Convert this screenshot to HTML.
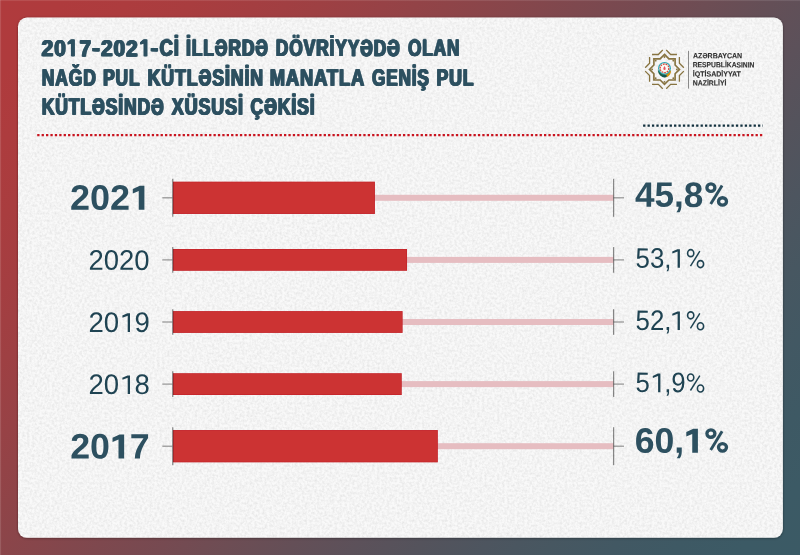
<!DOCTYPE html>
<html><head><meta charset="utf-8"><title>Chart</title>
<style>
html,body{margin:0;padding:0;}
body{width:800px;height:555px;overflow:hidden;background:linear-gradient(131.5deg,rgb(176,59,61) 0%,rgb(175,59,61) 5%,rgb(173,60,62) 10%,rgb(169,61,63) 15%,rgb(164,62,65) 20%,rgb(158,64,67) 25%,rgb(151,66,70) 30%,rgb(143,68,72) 35%,rgb(135,70,75) 40%,rgb(126,72,78) 45%,rgb(118,74,81) 50%,rgb(109,77,84) 55%,rgb(100,79,87) 60%,rgb(92,81,90) 65%,rgb(84,83,92) 70%,rgb(77,85,95) 75%,rgb(71,87,97) 80%,rgb(66,88,99) 85%,rgb(62,89,100) 90%,rgb(60,90,101) 95%,rgb(59,90,101) 100%);font-family:"Liberation Sans",sans-serif;}
svg{display:block;position:absolute;left:0;top:0;}
text{font-family:"Liberation Sans",sans-serif;text-rendering:geometricPrecision;}
.ttl{font-weight:700;fill:#2d5060;stroke:#2d5060;stroke-linejoin:round;}
.bl{font-weight:700;fill:#2d5060;}
.rl{font-weight:400;fill:#1f4352;}
.sk{stroke:currentColor;stroke-linejoin:round;}
.bl{color:#2d5060}.rl{color:#1f4352}
.lg{font-weight:700;fill:#333;stroke:#333;stroke-width:0.12;}
</style></head><body>
<svg width="800" height="555" viewBox="0 0 800 555" style="will-change:transform">
<defs>
<g id="tl0"><text class="ttl" transform="translate(41.674,56.1) rotate(0.1) scale(0.916,1)" font-size="22.718" stroke-width="0.55" letter-spacing="1.15">20<tspan visibility="hidden">1</tspan>7</text><path d="M74.35 56.37L74.35 39.53L71.05 39.53L67.95 42.2L67.95 44.4L71.45 43.3L71.45 56.37Z" fill="#2d5060"/><text class="ttl" transform="translate(92.092,55.75) rotate(0.1) scale(1.001,1)" font-size="23.3" stroke-width="0.55" letter-spacing="1.15">-</text><text class="ttl" transform="translate(101.078,56.1) rotate(0.1) scale(0.908,1)" font-size="22.718" stroke-width="0.55" letter-spacing="1.15">202<tspan visibility="hidden">1</tspan></text><path d="M146.95 56.37L146.95 39.53L143.65 39.53L140.55 42.2L140.55 44.4L144.05 43.3L144.05 56.37Z" fill="#2d5060"/><text class="ttl" transform="translate(150.492,55.75) rotate(0.1) scale(1.001,1)" font-size="23.3" stroke-width="0.55" letter-spacing="1.15">-</text><text class="ttl" transform="translate(159.634,55.75) rotate(0.1) scale(0.785,1)" font-size="23.3" stroke-width="0.55" letter-spacing="1.15">Cİ</text><text class="ttl" transform="translate(186.02,55.75) rotate(0.1) scale(0.75,1)" font-size="23.3" stroke-width="0.55" letter-spacing="1.15">İLLƏRDƏ</text><text class="ttl" transform="translate(275.824,55.75) rotate(0.1) scale(0.747,1)" font-size="23.3" stroke-width="0.55" letter-spacing="1.15">DÖVRİYYƏDƏ</text><text class="ttl" transform="translate(408.064,55.75) rotate(0.1) scale(0.739,1)" font-size="23.3" stroke-width="0.55" letter-spacing="1.15">OLAN</text></g>
<clipPath id="cb0"><rect x="0" y="38.9" width="800" height="30"/></clipPath><clipPath id="cm0"><rect x="0" y="26.9" width="800" height="12"/></clipPath>
<g id="tl1"><text class="ttl" transform="translate(41.718,85.4) rotate(0.1) scale(0.752,1)" font-size="23.3" stroke-width="0.55" letter-spacing="1.15">NAĞD</text><text class="ttl" transform="translate(103.126,85.4) rotate(0.1) scale(0.745,1)" font-size="23.3" stroke-width="0.55" letter-spacing="1.15">PUL</text><text class="ttl" transform="translate(147.606,85.4) rotate(0.1) scale(0.762,1)" font-size="23.3" stroke-width="0.55" letter-spacing="1.15">KÜTLƏSİNİN</text><text class="ttl" transform="translate(269.676,85.4) rotate(0.1) scale(0.786,1)" font-size="23.3" stroke-width="0.55" letter-spacing="1.15">MANATLA</text><text class="ttl" transform="translate(371.965,85.4) rotate(0.1) scale(0.738,1)" font-size="23.3" stroke-width="0.55" letter-spacing="1.15">GENİŞ</text><text class="ttl" transform="translate(436.512,85.4) rotate(0.1) scale(0.757,1)" font-size="23.3" stroke-width="0.55" letter-spacing="1.15">PUL</text></g>
<clipPath id="cb1"><rect x="0" y="68.55" width="800" height="30"/></clipPath><clipPath id="cm1"><rect x="0" y="56.55" width="800" height="12"/></clipPath>
<g id="tl2"><text class="ttl" transform="translate(41.716,114.45) rotate(0.1) scale(0.754,1)" font-size="23.3" stroke-width="0.55" letter-spacing="1.15">KÜTLƏSİNDƏ</text><text class="ttl" transform="translate(171.782,114.45) rotate(0.1) scale(0.769,1)" font-size="23.3" stroke-width="0.55" letter-spacing="1.15">XÜSUSİ</text><text class="ttl" transform="translate(250.554,114.45) rotate(0.1) scale(0.756,1)" font-size="23.3" stroke-width="0.55" letter-spacing="1.15">ÇƏKİSİ</text></g>
<clipPath id="cb2"><rect x="0" y="97.6" width="800" height="30"/></clipPath><clipPath id="cm2"><rect x="0" y="85.6" width="800" height="12"/></clipPath>
<filter id="sh" x="-5%" y="-5%" width="110%" height="110%"><feDropShadow dx="0" dy="0.5" stdDeviation="1.2" flood-color="#000" flood-opacity="0.45"/></filter>
<filter id="noise" x="0" y="0" width="100%" height="100%"><feTurbulence type="fractalNoise" baseFrequency="0.4" numOctaves="3" seed="3" result="n"/><feColorMatrix in="n" type="matrix" values="0 0 0 0 0  0 0 0 0 0  0 0 0 0 0  0.13 0 0 0 -0.043"/><feComposite in2="SourceGraphic" operator="in"/></filter>
</defs>
<rect x="0" y="0" width="1.1" height="555" fill="rgba(255,255,255,0.13)"/><rect x="0" y="0" width="800" height="1.1" fill="rgba(255,255,255,0.1)"/>
<rect x="18" y="17.5" width="764.9" height="520.3" rx="9" ry="9" fill="#f9f9f9" filter="url(#sh)"/>
<rect x="18" y="17.5" width="764.9" height="520.3" rx="9" ry="9" fill="#000" filter="url(#noise)"/>
<g clip-path="url(#cb0)"><use href="#tl0" x="-0.55"/><use href="#tl0"/><use href="#tl0" x="0.55"/></g>
<g transform="translate(0,-0.65)" clip-path="url(#cm0)"><use href="#tl0" x="-0.55"/><use href="#tl0"/><use href="#tl0" x="0.55"/></g>
<g clip-path="url(#cb1)"><use href="#tl1" x="-0.55"/><use href="#tl1"/><use href="#tl1" x="0.55"/></g>
<g transform="translate(0,-0.65)" clip-path="url(#cm1)"><use href="#tl1" x="-0.55"/><use href="#tl1"/><use href="#tl1" x="0.55"/></g>
<g clip-path="url(#cb2)"><use href="#tl2" x="-0.55"/><use href="#tl2"/><use href="#tl2" x="0.55"/></g>
<g transform="translate(0,-0.65)" clip-path="url(#cm2)"><use href="#tl2" x="-0.55"/><use href="#tl2"/><use href="#tl2" x="0.55"/></g>
<line x1="37.2" y1="135.05" x2="763" y2="135.05" stroke="#c9141f" stroke-width="2.3" stroke-dasharray="2.3 2.107"/>
<line x1="643.1" y1="125.65" x2="762.9" y2="125.65" stroke="#12303e" stroke-width="2.3" stroke-dasharray="2.3 2.12"/>
<text class="lg" transform="translate(693.024,58.2) rotate(0.1) scale(0.941,1)" font-size="7.5">AZƏRBAYCAN</text>
<text class="lg" transform="translate(692.763,67.3) rotate(0.1) scale(0.897,1)" font-size="7.5">RESPUBLİKASININ</text>
<text class="lg" transform="translate(692.742,76.4) rotate(0.1) scale(0.939,1)" font-size="7.5">İQTİSADİYYAT</text>
<text class="lg" transform="translate(692.752,85.5) rotate(0.1) scale(0.92,1)" font-size="7.5">NAZİRLİYİ</text>
<line x1="688.5" y1="50.8" x2="688.5" y2="88.6" stroke="#8a8a8a" stroke-width="1"/>
<g transform="translate(664.5,69.4)"><path d="M1.73 -19.34L6.17 -14.9L12.46 -14.9M14.9 -12.46L14.9 -6.17L19.34 -1.73M19.34 1.73L14.9 6.17L14.9 12.46M12.46 14.9L6.17 14.9L1.73 19.34M-1.73 19.34L-6.17 14.9L-12.46 14.9M-14.9 12.46L-14.9 6.17L-19.34 1.73M-19.34 -1.73L-14.9 -6.17L-14.9 -12.46M-12.46 -14.9L-6.17 -14.9L-1.73 -19.34" fill="none" stroke="#877340" stroke-width="1.3" stroke-linecap="butt" stroke-linejoin="miter"/>
<path d="M0 -14.99L4.39 -10.6L10.6 -10.6L10.6 -4.39L14.99 0L10.6 4.39L10.6 10.6L4.39 10.6L0 14.99L-4.39 10.6L-10.6 10.6L-10.6 4.39L-14.99 0L-10.6 -4.39L-10.6 -10.6L-4.39 -10.6Z" fill="none" stroke="#877340" stroke-width="1.65" stroke-linejoin="miter"/>
<circle cx="0" cy="-12.39" r="0.9" fill="#877340"/>
<circle cx="8.76" cy="-8.76" r="0.9" fill="#877340"/>
<circle cx="12.39" cy="0" r="0.9" fill="#877340"/>
<circle cx="8.76" cy="8.76" r="0.9" fill="#877340"/>
<circle cx="0" cy="12.39" r="0.9" fill="#877340"/>
<circle cx="-8.76" cy="8.76" r="0.9" fill="#877340"/>
<circle cx="-12.39" cy="0" r="0.9" fill="#877340"/>
<circle cx="-8.76" cy="-8.76" r="0.9" fill="#877340"/>
<path d="M-6.6 1.1 A7.2 7.2 0 0 0 0.8 8.1 L0.8 3.9 A4 4 0 0 1 -4 0.9 Z" fill="#1a5f45"/>
<path d="M6.6 1.1 A7.2 7.2 0 0 1 0.8 8.1 L0.8 3.9 A4 4 0 0 0 4 0.9 Z" fill="#cf920f"/>
<ellipse cx="0.2" cy="6.6" rx="2.2" ry="1.3" fill="#0f5458"/>
<circle cx="0" cy="-1.1" r="6.4" fill="#2aa6b3"/>
<circle cx="0" cy="-1.1" r="5.2" fill="#f4f1ea"/>
<circle cx="0" cy="-1.1" r="4.3" fill="none" stroke="#d3483d" stroke-width="1.3" stroke-dasharray="1.7 0.9"/>
<circle cx="0" cy="-1.1" r="3.4" fill="#fbf8f2"/>
<path d="M0 -3.3 C1.6 -1.5 1.5 0.7 0 0.7 C-1.5 0.7 -1.6 -1.5 0 -3.3 Z" fill="#e8525e"/></g>
<rect x="172.9" y="194.8" width="440.5" height="6" fill="#e6bdc1"/>
<rect x="172.9" y="181.65" width="202.02" height="32.3" fill="#c3232a"/>
<rect x="173.6" y="182.35" width="200.62" height="30.9" fill="#cc3333"/>
<line x1="162.3" y1="197.8" x2="172.4" y2="197.8" stroke="#929292" stroke-width="1.2"/>
<line x1="172.75" y1="178.8" x2="172.75" y2="216.8" stroke="rgba(35,35,35,0.52)" stroke-width="1.25"/>
<line x1="613.6" y1="197.8" x2="624" y2="197.8" stroke="#929292" stroke-width="1.2"/>
<line x1="613.6" y1="178.8" x2="613.6" y2="216.8" stroke="rgba(35,35,35,0.52)" stroke-width="1.25"/>
<text class="bl" transform="translate(70.042,209.8) rotate(0.1) scale(1.016,1)" font-size="35.4">202<tspan visibility="hidden">1</tspan></text>
<text class="bl" transform="translate(634.973,206.8) rotate(0.1) scale(0.992,1)" font-size="35.4">45,8</text>
<path d="M144.4 209.8L144.4 185.8L139.8 185.8L132.8 189.1L132.8 193.4L138.75 190.9L138.75 209.8Z" fill="#2d5060"/>
<g transform="translate(705.2,206.8)" fill="none" stroke="#2d5060"><ellipse cx="5.7" cy="-19.15" rx="4" ry="3.72" stroke-width="3.3"/><ellipse cx="17.3" cy="-5.35" rx="4" ry="3.72" stroke-width="3.3"/><line x1="16.9" y1="-21.4" x2="5.5" y2="-2.7" stroke-width="2.9"/></g>
<rect x="172.9" y="256.9" width="440.5" height="6" fill="#e6bdc1"/>
<rect x="172.9" y="249" width="234.14" height="21.8" fill="#c3232a"/>
<rect x="173.6" y="249.7" width="232.74" height="20.4" fill="#cc3333"/>
<line x1="162.3" y1="259.9" x2="172.4" y2="259.9" stroke="#929292" stroke-width="1.2"/>
<line x1="172.75" y1="247.1" x2="172.75" y2="272.7" stroke="rgba(35,35,35,0.52)" stroke-width="1.25"/>
<line x1="613.6" y1="259.9" x2="624" y2="259.9" stroke="#929292" stroke-width="1.2"/>
<line x1="613.6" y1="247.1" x2="613.6" y2="272.7" stroke="rgba(35,35,35,0.52)" stroke-width="1.25"/>
<text class="rl" transform="translate(88.528,269.8) rotate(0.1) scale(0.973,1)" font-size="28.2">2020</text>
<text class="rl" transform="translate(635.568,267.7) rotate(0.1) scale(0.915,1)" font-size="28.2">53,<tspan visibility="hidden">1</tspan></text>
<path d="M679.9 267.8L679.9 249.2L677.4 249.2L672.2 251.5L672.4 253.6L677.6 251.6L677.6 267.8Z" fill="#1f4352"/>
<g transform="translate(686.8,267.7)" fill="none" stroke="#1f4352"><ellipse cx="3.9" cy="-14.55" rx="3.1" ry="3.5" stroke-width="1.6"/><ellipse cx="13.7" cy="-3.6" rx="3.1" ry="3.5" stroke-width="1.6"/><line x1="13.05" y1="-16.5" x2="3.65" y2="-1.6" stroke-width="1.45"/></g>
<rect x="172.9" y="319" width="440.5" height="6" fill="#e6bdc1"/>
<rect x="172.9" y="311.1" width="229.74" height="21.8" fill="#c3232a"/>
<rect x="173.6" y="311.8" width="228.34" height="20.4" fill="#cc3333"/>
<line x1="162.3" y1="322" x2="172.4" y2="322" stroke="#929292" stroke-width="1.2"/>
<line x1="172.75" y1="309.2" x2="172.75" y2="334.8" stroke="rgba(35,35,35,0.52)" stroke-width="1.25"/>
<line x1="613.6" y1="322" x2="624" y2="322" stroke="#929292" stroke-width="1.2"/>
<line x1="613.6" y1="309.2" x2="613.6" y2="334.8" stroke="rgba(35,35,35,0.52)" stroke-width="1.25"/>
<text class="rl" transform="translate(88.521,331.9) rotate(0.1) scale(0.978,1)" font-size="28.2">20<tspan visibility="hidden">1</tspan>9</text>
<text class="rl" transform="translate(635.568,329.9) rotate(0.1) scale(0.915,1)" font-size="28.2">52,<tspan visibility="hidden">1</tspan></text>
<path d="M130 331.9L130 313.3L127.5 313.3L122.3 315.6L122.5 317.7L127.7 315.7L127.7 331.9Z" fill="#1f4352"/>
<path d="M679.9 330L679.9 311.4L677.4 311.4L672.2 313.7L672.4 315.8L677.6 313.8L677.6 330Z" fill="#1f4352"/>
<g transform="translate(686.8,329.9)" fill="none" stroke="#1f4352"><ellipse cx="3.9" cy="-14.55" rx="3.1" ry="3.5" stroke-width="1.6"/><ellipse cx="13.7" cy="-3.6" rx="3.1" ry="3.5" stroke-width="1.6"/><line x1="13.05" y1="-16.5" x2="3.65" y2="-1.6" stroke-width="1.45"/></g>
<rect x="172.9" y="381.1" width="440.5" height="6" fill="#e6bdc1"/>
<rect x="172.9" y="373.2" width="228.86" height="21.8" fill="#c3232a"/>
<rect x="173.6" y="373.9" width="227.46" height="20.4" fill="#cc3333"/>
<line x1="162.3" y1="384.1" x2="172.4" y2="384.1" stroke="#929292" stroke-width="1.2"/>
<line x1="172.75" y1="371.3" x2="172.75" y2="396.9" stroke="rgba(35,35,35,0.52)" stroke-width="1.25"/>
<line x1="613.6" y1="384.1" x2="624" y2="384.1" stroke="#929292" stroke-width="1.2"/>
<line x1="613.6" y1="371.3" x2="613.6" y2="396.9" stroke="rgba(35,35,35,0.52)" stroke-width="1.25"/>
<text class="rl" transform="translate(88.524,394) rotate(0.1) scale(0.976,1)" font-size="28.2">20<tspan visibility="hidden">1</tspan>8</text>
<text class="rl" transform="translate(635.57,392.1) rotate(0.1) scale(0.913,1)" font-size="28.2">5<tspan visibility="hidden">1</tspan>,9</text>
<path d="M130 394L130 375.4L127.5 375.4L122.3 377.7L122.5 379.8L127.7 377.8L127.7 394Z" fill="#1f4352"/>
<path d="M660.4 392.2L660.4 373.6L657.9 373.6L652.7 375.9L652.9 378L658.1 376L658.1 392.2Z" fill="#1f4352"/>
<g transform="translate(686.8,392.1)" fill="none" stroke="#1f4352"><ellipse cx="3.9" cy="-14.55" rx="3.1" ry="3.5" stroke-width="1.6"/><ellipse cx="13.7" cy="-3.6" rx="3.1" ry="3.5" stroke-width="1.6"/><line x1="13.05" y1="-16.5" x2="3.65" y2="-1.6" stroke-width="1.45"/></g>
<rect x="172.9" y="443.2" width="440.5" height="6" fill="#e6bdc1"/>
<rect x="172.9" y="430.05" width="264.94" height="32.3" fill="#c3232a"/>
<rect x="173.6" y="430.75" width="263.54" height="30.9" fill="#cc3333"/>
<line x1="162.3" y1="446.2" x2="172.4" y2="446.2" stroke="#929292" stroke-width="1.2"/>
<line x1="172.75" y1="427.2" x2="172.75" y2="465.2" stroke="rgba(35,35,35,0.52)" stroke-width="1.25"/>
<line x1="613.6" y1="446.2" x2="624" y2="446.2" stroke="#929292" stroke-width="1.2"/>
<line x1="613.6" y1="427.2" x2="613.6" y2="465.2" stroke="rgba(35,35,35,0.52)" stroke-width="1.25"/>
<text class="bl" transform="translate(70.15,458.4) rotate(0.1) scale(1.009,1)" font-size="35.4">20<tspan visibility="hidden">1</tspan>7</text>
<text class="bl" transform="translate(634.655,452.7) rotate(0.1) scale(1.005,1)" font-size="35.4">60,<tspan visibility="hidden">1</tspan></text>
<path d="M124.15 458.4L124.15 434.4L119.55 434.4L112.55 437.7L112.55 442L118.5 439.5L118.5 458.4Z" fill="#2d5060"/>
<path d="M697.9 452.8L697.9 428.8L693.3 428.8L686.3 432.1L686.3 436.4L692.25 433.9L692.25 452.8Z" fill="#2d5060"/>
<g transform="translate(705.2,452.7)" fill="none" stroke="#2d5060"><ellipse cx="5.7" cy="-19.15" rx="4" ry="3.72" stroke-width="3.3"/><ellipse cx="17.3" cy="-5.35" rx="4" ry="3.72" stroke-width="3.3"/><line x1="16.9" y1="-21.4" x2="5.5" y2="-2.7" stroke-width="2.9"/></g>
</svg>
</body></html>
